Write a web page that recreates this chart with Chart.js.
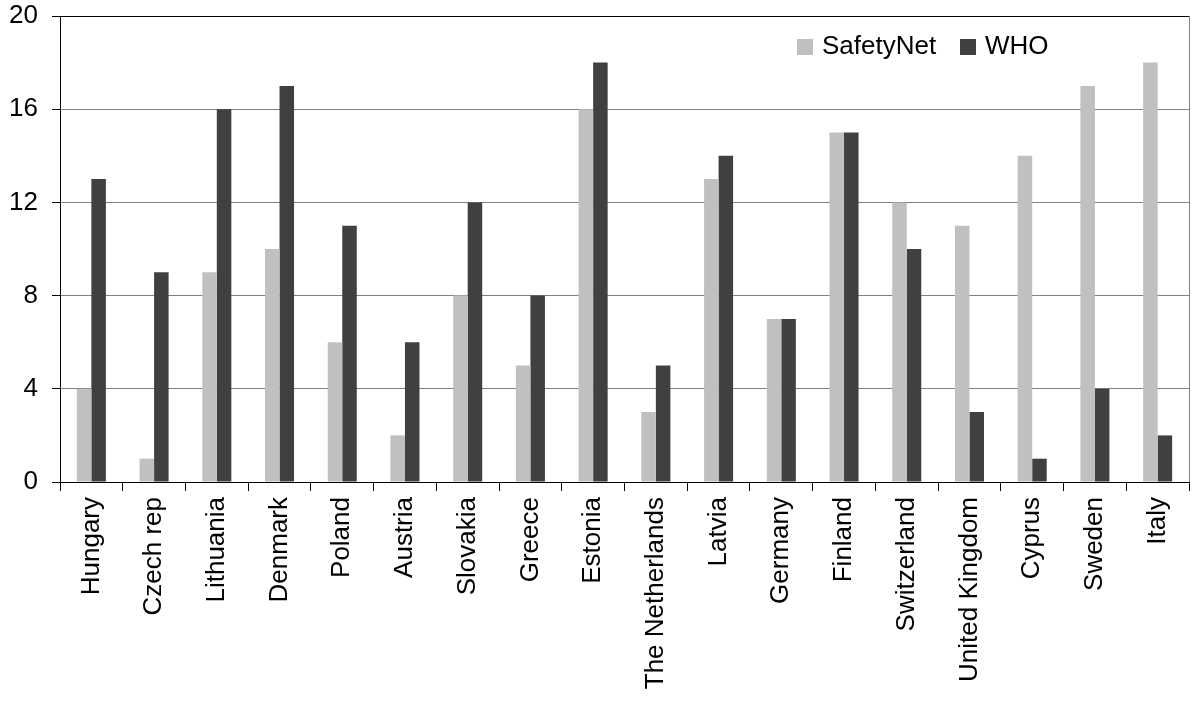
<!DOCTYPE html>
<html>
<head>
<meta charset="utf-8">
<script src="https://cdn.jsdelivr.net/npm/chart.js@4/dist/chart.umd.min.js"></script>
<style>
  html, body { margin: 0; padding: 0; background: #fff; }
  #wrap { width: 1192px; height: 704px; }
</style>
</head>
<body>
<div id="wrap"><canvas id="c"></canvas></div>
<script>
const countries = ["Hungary", "Czech rep", "Lithuania", "Denmark", "Poland", "Austria", "Slovakia", "Greece", "Estonia",
  "The Netherlands", "Latvia", "Germany", "Finland", "Switzerland", "United Kingdom", "Cyprus", "Sweden", "Italy"]
const safetyNet = [4, 1, 9, 10, 6, 2, 8, 5, 16, 3, 13, 7, 15, 12, 11, 14, 17, 18]
const who = [13, 9, 16, 17, 11, 6, 12, 8, 18, 5, 14, 7, 15, 10, 3, 1, 4, 2]
const yTicks = [0, 4, 8, 12, 16, 20]

const FONT = "'Liberation Sans', Arial, sans-serif"

// legend + right border drawn by hand, placed like the original
const frame = {
  id: "frame",
  afterDraw(chart) {
    const { ctx, chartArea } = chart
    ctx.save()
    ctx.strokeStyle = "#808080"
    ctx.lineWidth = 1
    ctx.beginPath()
    ctx.moveTo(chartArea.right + 0.5, chartArea.top)
    ctx.lineTo(chartArea.right + 0.5, chartArea.bottom)
    ctx.stroke()

    const items = [["SafetyNet", "#c0c0c0", 797], ["WHO", "#404040", 960]]
    ctx.font = "26px " + FONT
    ctx.textBaseline = "middle"
    items.forEach(([label, color, x]) => {
      ctx.fillStyle = color
      ctx.fillRect(x, 39, 16, 16)
      ctx.fillStyle = "#000"
      ctx.fillText(label, x + 25, 47)
    })
    ctx.restore()
  }
}

new Chart(document.getElementById("c"), {
  type: "bar",
  data: {
    labels: countries,
    datasets: [
      { label: "SafetyNet", data: safetyNet, backgroundColor: "#c0c0c0" },
      { label: "WHO", data: who, backgroundColor: "#404040" },
    ]
  },
  options: {
    responsive: true,
    maintainAspectRatio: false,
    animation: false,
    layout: { padding: { top: 16, right: 3, left: 0, bottom: 0 } },
    plugins: {
      legend: { display: false },
      tooltip: { enabled: false },
    },
    datasets: {
      bar: { categoryPercentage: 0.463, barPercentage: 1 }
    },
    scales: {
      x: {
        offset: true,
        grid: {
          offset: true,
          drawOnChartArea: false,
          drawTicks: true,
          tickLength: 9,
          color: "#000",
        },
        border: { color: "#000" },
        ticks: {
          color: "#000",
          font: { family: FONT, size: 26 },
          minRotation: 90,
          maxRotation: 90,
          autoSkip: false,
          padding: 6,
        },
        afterFit(scale) {
          scale.height = 222
          scale.paddingLeft = 0
          scale.paddingRight = 0
        },
      },
      y: {
        min: 0,
        max: 20,
        afterBuildTicks(scale) { scale.ticks = yTicks.map(v => ({ value: v })) },
        grid: {
          color: ctx => (ctx.tick && ctx.tick.value === 20 ? "#000" : "#808080"),
          tickColor: "#000",
          tickLength: 8,
        },
        border: { color: "#000" },
        ticks: {
          color: "#000",
          font: { family: FONT, size: 26 },
          padding: 14,
        },
        afterFit(scale) {
          scale.width = 60
          scale.paddingTop = 0
          scale.paddingBottom = 0
        },
      }
    }
  },
  plugins: [frame]
})
</script>
</body>
</html>
